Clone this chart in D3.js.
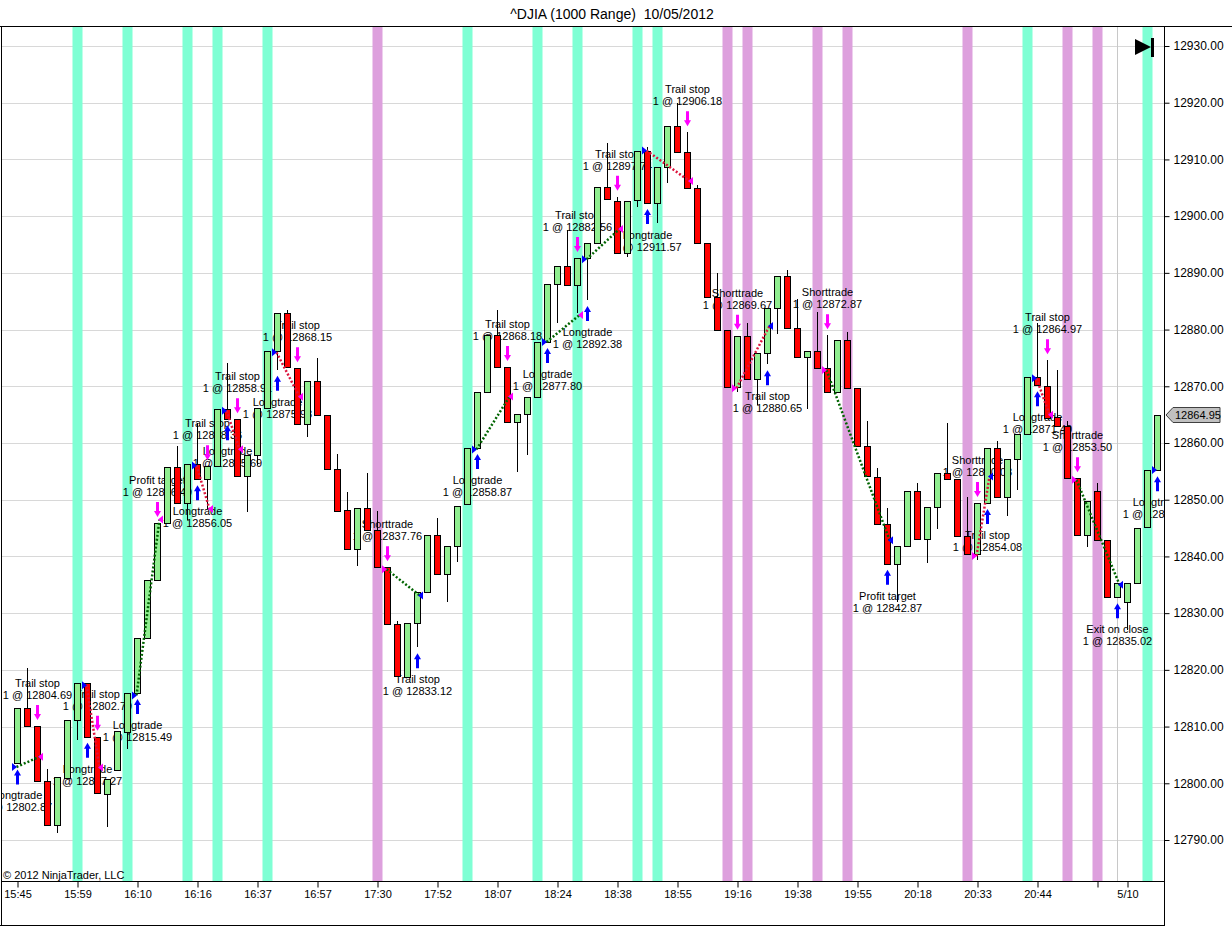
<!DOCTYPE html>
<html><head><meta charset="utf-8">
<script src="https://cdn.jsdelivr.net/npm/d3@7"></script>
<style>body{margin:0;background:#fff;} svg{display:block;font-family:"Liberation Sans",Arial,sans-serif;}</style>
</head><body><svg id="c" width="1232" height="927"></svg>
<script>
// ---- data (range bars, 10 pt) ----
const opens  = [12803.5,12813.2,12810.1,12800.4,12792.6,12800.9,12811.1,12817.7,12808.2,12798.1,
12802.3,12809.0,12815.9,12825.7,12835.8,12845.9,12855.8,12849.4,12856.3,12853.6,
12855.9,12866.0,12864.2,12854.2,12857.9,12866.2,12876.2,12882.9,12873.2,12863.3,
12870.9,12864.9,12855.4,12848.2,12841.3,12848.5,12844.7,12838.1,12828.1,12818.7,
12828.3,12833.7,12843.8,12836.9,12841.8,12849.2,12859.1,12869.0,12879.0,12873.4,
12863.7,12865.1,12868.1,12877.8,12888.0,12891.2,12887.8,12892.6,12895.3,12905.1,
12902.7,12893.5,12902.8,12911.5,12902.3,12908.7,12915.9,12911.3,12905.0,12895.3,
12885.7,12879.9,12869.9,12878.9,12871.3,12875.9,12883.8,12889.4,12880.3,12875.2,
12876.2,12873.2,12869.0,12878.2,12869.7,12859.5,12854.0,12845.7,12838.7,12841.8,
12851.5,12843.1,12848.7,12854.7,12853.6,12843.6,12840.4,12849.4,12859.1,12850.5,
12857.2,12861.6,12871.6,12870.0,12864.6,12863.0,12853.8,12843.8,12851.5,12842.9,
12832.8,12832.0,12835.3,12845.2,12855.2];
const highs  = [12813.2,12820.3,12810.1,12802.5,12801.1,12811.1,12817.7,12817.7,12808.2,12800.8,
12809.2,12815.9,12825.7,12835.8,12845.9,12855.8,12859.5,12856.3,12863.5,12855.9,
12866.0,12874.1,12864.2,12857.9,12866.2,12876.2,12882.9,12883.4,12873.2,12870.9,
12875.0,12864.9,12858.1,12851.4,12848.5,12854.7,12848.0,12838.1,12828.6,12828.3,
12833.7,12843.8,12846.8,12841.8,12848.9,12859.1,12869.0,12879.0,12883.4,12873.4,
12865.1,12868.1,12877.8,12888.0,12891.2,12897.5,12892.6,12895.3,12905.1,12912.9,
12903.4,12902.7,12911.5,12912.2,12908.7,12915.9,12920.0,12914.8,12905.5,12895.3,
12890.0,12879.9,12878.9,12881.2,12875.9,12883.8,12889.4,12890.5,12885.4,12876.2,
12883.1,12879.0,12878.2,12879.6,12869.7,12863.9,12855.6,12848.5,12841.8,12851.5,
12853.0,12848.7,12854.7,12863.5,12853.6,12850.5,12849.4,12859.1,12860.3,12857.2,
12861.6,12871.6,12881.2,12874.6,12872.9,12863.9,12853.8,12849.8,12853.0,12842.9,
12835.3,12835.3,12845.0,12855.2,12864.95];
const lows   = [12803.5,12810.1,12800.4,12792.6,12791.2,12800.9,12807.6,12808.2,12798.3,12792.3,
12802.3,12806.1,12815.9,12825.7,12835.8,12845.9,12849.4,12846.4,12853.6,12848.4,
12855.9,12864.2,12854.2,12847.8,12856.1,12866.2,12872.9,12873.4,12863.3,12861.0,
12864.9,12855.4,12848.0,12841.3,12838.3,12844.7,12838.1,12828.1,12818.9,12818.7,
12824.0,12833.7,12836.9,12832.0,12839.0,12849.2,12859.1,12869.0,12873.4,12863.7,
12854.9,12857.9,12868.1,12877.8,12881.2,12887.8,12882.9,12885.2,12895.3,12903.0,
12893.5,12892.8,12901.6,12902.3,12898.8,12905.8,12911.3,12905.0,12895.3,12885.7,
12879.9,12869.9,12869.0,12871.3,12866.7,12873.9,12879.2,12880.3,12875.2,12866.0,
12873.2,12869.0,12869.0,12869.7,12859.5,12854.2,12845.7,12838.7,12832.0,12841.8,
12843.1,12838.8,12844.8,12853.6,12843.6,12840.4,12839.4,12849.4,12850.5,12847.1,
12851.7,12861.6,12870.2,12864.4,12863.0,12853.8,12843.8,12841.7,12842.9,12832.8,
12832.8,12827.0,12835.3,12845.2,12855.2];
const closes = [12813.2,12810.1,12800.4,12792.6,12801.1,12811.1,12817.7,12808.2,12798.3,12800.8,
12809.2,12815.9,12825.7,12835.8,12845.9,12855.8,12849.4,12856.3,12853.6,12855.9,
12866.0,12864.2,12854.2,12857.9,12866.2,12876.2,12882.9,12873.4,12863.3,12870.9,
12864.9,12855.4,12848.0,12841.3,12848.5,12844.7,12838.1,12828.1,12818.9,12828.3,
12833.7,12843.8,12836.9,12841.8,12848.9,12859.1,12869.0,12879.0,12873.4,12863.7,
12865.1,12868.1,12877.8,12888.0,12891.2,12887.8,12892.6,12895.3,12905.1,12903.0,
12893.5,12902.7,12911.5,12902.3,12908.7,12915.9,12911.3,12905.0,12895.3,12885.7,
12879.9,12869.9,12878.9,12871.3,12875.9,12883.8,12889.4,12880.3,12875.2,12876.2,
12873.2,12869.0,12878.2,12869.7,12859.5,12854.2,12845.7,12838.7,12841.8,12851.5,
12843.1,12848.7,12854.7,12853.6,12843.6,12840.4,12849.4,12859.1,12850.5,12857.2,
12861.6,12871.6,12870.2,12864.4,12863.0,12853.8,12843.8,12849.8,12842.9,12832.8,
12835.3,12835.3,12845.0,12855.2,12864.95];

const tickIndex  = [0,6,12,18,24,30,36,42,48,54,60,66,72,78,84,90,96,102,108,111];
const tickLabels = ["15:45","15:59","16:10","16:16","16:37","16:57","17:30","17:52","18:07","18:24",
                    "18:38","18:55","19:16","19:38","19:55","20:18","20:33","20:44","","5/10"];
const yTicks = [12790,12800,12810,12820,12830,12840,12850,12860,12870,12880,12890,12900,12910,12920,12930];
const greenBands = [6,11,17,20,25,45,52,56,62,64,101,113];
const plumBands  = [36,71,73,80,83,95,105,108];
const dateBreak = 110;

// trades
const tradeDir    = ["L","L","L","L","L","L","S","L","L","L","L","S","S","S","L","S","L"];
const entryBar    = [0,7,12,18,21,26,37,46,53,57,63,72,81,96,102,106,114];
const entryPrice  = [12802.87,12817.27,12815.49,12856.05,12865.69,12875.98,12837.76,12858.87,12877.80,12892.38,12911.57,12869.67,12872.87,12840.08,12871.40,12853.50,12855.23];
const exitBar     = [2,8,14,19,22,28,40,49,56,60,67,75,87,97,103,110,null];
const exitPrice   = [12804.69,12802.79,12846.49,12848.36,12858.91,12868.15,12833.12,12868.18,12882.56,12897.74,12906.18,12880.65,12842.87,12854.08,12864.97,12835.02,null];
const exitName    = ["Trail stop","Trail stop","Profit target","Trail stop","Trail stop","Trail stop","Trail stop","Trail stop","Trail stop","Trail stop","Trail stop","Trail stop","Profit target","Trail stop","Trail stop","Exit on close",null];

// ---- layout ----
const svg = d3.select("#c");
const L = 1, R = 1164, T = 26, B = 881;
const x = d3.scaleLinear().domain([0, 114]).range([17.5, 1157.5]);
const y = d3.scaleLinear().domain([12790, 12930]).range([840, 46]);
const fmt = d3.format(".2f");
const BLUE = "#0000FF", MAG = "#FF00FF";

svg.append("defs").append("clipPath").attr("id","plot")
  .append("rect").attr("x",L).attr("y",T).attr("width",R-L).attr("height",B-T);

// title
svg.append("text").attr("x",612).attr("y",19).attr("text-anchor","middle")
  .attr("font-size",14).attr("fill","#000").style("white-space","pre")
  .text("^DJIA (1000 Range)  10/05/2012");

const plot = svg.append("g").attr("clip-path","url(#plot)");

// grid
plot.selectAll("line.grid").data(yTicks).enter().append("line")
  .attr("x1",L).attr("x2",R).attr("y1",d=>Math.round(y(d))+0.5).attr("y2",d=>Math.round(y(d))+0.5)
  .attr("stroke","#D8D8D8").attr("stroke-width",1);

// bands
plot.selectAll("rect.gb").data(greenBands).enter().append("rect")
  .attr("x",d=>x(d)-5).attr("width",10).attr("y",T).attr("height",B-T).attr("fill","#7FFFD4");
plot.selectAll("rect.pb").data(plumBands).enter().append("rect")
  .attr("x",d=>x(d)-5).attr("width",10).attr("y",T).attr("height",B-T).attr("fill","#DDA0DD");

// date break line
plot.append("line").attr("x1",x(dateBreak)).attr("x2",x(dateBreak)).attr("y1",T).attr("y2",B)
  .attr("stroke","#C8C8C8").attr("stroke-width",1);

// trade label helpers
const idx = d3.range(opens.length);
const labels = plot.append("g").attr("font-size",11).attr("fill","#000").attr("text-anchor","middle");
function labelAbove(bar, l1, l2){
  const yh = y(highs[bar]);
  labels.append("text").attr("x",x(bar)).attr("y",yh-39).text(l1);
  labels.append("text").attr("x",x(bar)).attr("y",yh-27).text(l2);
}
function labelBelow(bar, l1, l2){
  const yl = y(lows[bar]);
  labels.append("text").attr("x",x(bar)).attr("y",yl+36).text(l1);
  labels.append("text").attr("x",x(bar)).attr("y",yl+48).text(l2);
}
tradeDir.forEach((d,k)=>{
  const eName = d==="L" ? "Longtrade" : "Shorttrade";
  if (d==="L") labelBelow(entryBar[k], eName, "1 @ "+fmt(entryPrice[k]));
  else labelAbove(entryBar[k], eName, "1 @ "+fmt(entryPrice[k]));
  if (exitBar[k]!==null){
    if (d==="L") labelAbove(exitBar[k], exitName[k], "1 @ "+fmt(exitPrice[k]));
    else labelBelow(exitBar[k], exitName[k], "1 @ "+fmt(exitPrice[k]));
  }
});

// candles
const cg = plot.append("g");
cg.selectAll("line.wick").data(idx).enter().append("line")
  .attr("x1",i=>x(i)).attr("x2",i=>x(i))
  .attr("y1",i=>Math.round(y(highs[i]))).attr("y2",i=>Math.round(y(lows[i])))
  .attr("stroke","#000").attr("stroke-width",1);
cg.selectAll("rect.body").data(idx).enter().append("rect")
  .attr("x",i=>x(i)-3).attr("width",6)
  .attr("y",i=>Math.round(y(Math.max(opens[i],closes[i])))+0.5)
  .attr("height",i=>Math.max(1,Math.round(y(Math.min(opens[i],closes[i])))-Math.round(y(Math.max(opens[i],closes[i])))))
  .attr("fill",i=>closes[i]>=opens[i] ? "#90EE90" : "#FF0000")
  .attr("stroke","#000").attr("stroke-width",1);

// trade connection lines
const mg = plot.append("g");
tradeDir.forEach((d,k)=>{
  if (exitBar[k]===null) return;
  const win = d==="L" ? exitPrice[k]>entryPrice[k] : exitPrice[k]<entryPrice[k];
  mg.append("line")
    .attr("x1",x(entryBar[k])-1).attr("y1",y(entryPrice[k]))
    .attr("x2",x(exitBar[k])+2).attr("y2",y(exitPrice[k]))
    .attr("stroke",win ? "#006400" : "#DC143C").attr("stroke-width",2.5)
    .attr("stroke-dasharray","2,2");
});

// markers
function triRight(cx, cy, col){ // entry, at left of bar
  mg.append("path").attr("d",`M${cx-5},${cy-4}L${cx},${cy}L${cx-5},${cy+4}Z`).attr("fill",col);
}
function triLeft(cx, cy, col){ // exit, at right of bar
  mg.append("path").attr("d",`M${cx+5},${cy-4}L${cx},${cy}L${cx+5},${cy+4}Z`).attr("fill",col);
}
function arrowUp(cx, tipY, col){
  mg.append("path").attr("d",
    `M${cx},${tipY}L${cx+3.5},${tipY+6}L${cx+1.5},${tipY+6}L${cx+1.5},${tipY+15}L${cx-1.5},${tipY+15}L${cx-1.5},${tipY+6}L${cx-3.5},${tipY+6}Z`)
    .attr("fill",col);
}
function arrowDown(cx, tipY, col){
  mg.append("path").attr("d",
    `M${cx},${tipY}L${cx+3.5},${tipY-6}L${cx+1.5},${tipY-6}L${cx+1.5},${tipY-15}L${cx-1.5},${tipY-15}L${cx-1.5},${tipY-6}L${cx-3.5},${tipY-6}Z`)
    .attr("fill",col);
}
tradeDir.forEach((d,k)=>{
  const eb = entryBar[k];
  if (d==="L"){
    triRight(x(eb)-0.5, y(entryPrice[k]), BLUE);
    arrowUp(x(eb), y(lows[eb])+6, BLUE);
  } else {
    triRight(x(eb)-0.5, y(entryPrice[k]), MAG);
    arrowDown(x(eb), y(highs[eb])-6, MAG);
  }
  if (exitBar[k]!==null){
    const xb = exitBar[k];
    if (d==="L"){
      triLeft(x(xb)+0.5, y(exitPrice[k]), MAG);
      arrowDown(x(xb), y(highs[xb])-6, MAG);
    } else {
      triLeft(x(xb)+0.5, y(exitPrice[k]), BLUE);
      arrowUp(x(xb), y(lows[xb])+6, BLUE);
    }
  }
});

// copyright
svg.append("text").attr("x",3).attr("y",879).attr("font-size",11).attr("fill","#000")
  .text("\u00A9 2012 NinjaTrader, LLC");

// frame
const fr = svg.append("g").attr("stroke","#000").attr("stroke-width",1).attr("fill","none");
fr.append("line").attr("x1",0).attr("x2",1232).attr("y1",T+0.5).attr("y2",T+0.5);
fr.append("line").attr("x1",L+0.5).attr("x2",L+0.5).attr("y1",T).attr("y2",926);
fr.append("line").attr("x1",0).attr("x2",R+1).attr("y1",925.5).attr("y2",925.5);
fr.append("line").attr("x1",R+0.5).attr("x2",R+0.5).attr("y1",T).attr("y2",926);
fr.append("line").attr("x1",L).attr("x2",R).attr("y1",B+0.5).attr("y2",B+0.5);

// y axis
const yAxis = d3.axisRight(y).tickValues(yTicks).tickFormat(fmt).tickSize(5).tickPadding(4);
const ya = svg.append("g").attr("transform",`translate(${R+0.5},0)`).call(yAxis);
ya.select(".domain").remove();
ya.selectAll("text").attr("font-size",12).attr("font-family","Liberation Sans, Arial, sans-serif").attr("fill","#000");
ya.selectAll("line").attr("stroke","#000");

// x axis
const xAxis = d3.axisBottom(x).tickValues(tickIndex).tickFormat((d,i)=>tickLabels[i]).tickSize(6).tickPadding(3);
const xa = svg.append("g").attr("transform",`translate(0,${B+0.5})`).call(xAxis);
xa.select(".domain").remove();
xa.selectAll("text").attr("font-size",11).attr("font-family","Liberation Sans, Arial, sans-serif").attr("fill","#000");
xa.selectAll("line").attr("stroke","#000");

// last price flag
const last = closes[closes.length-1];
const fy = Math.round(y(last));
svg.append("path").attr("d",`M${R+2},${fy}L${R+9},${fy-7.5}L${R+56},${fy-7.5}L${R+56},${fy+7.5}L${R+9},${fy+7.5}Z`)
  .attr("fill","#C0C0C0").attr("stroke","#404040").attr("stroke-width",1);
svg.append("text").attr("x",R+11).attr("y",fy+4).attr("font-size",11).attr("fill","#000").text(fmt(last));

// go-to-end icon
svg.append("path").attr("d","M1135,39L1151,47L1135,55Z").attr("fill","#000");
svg.append("rect").attr("x",1151).attr("y",38).attr("width",3).attr("height",19).attr("fill","#000");
</script></body></html>
